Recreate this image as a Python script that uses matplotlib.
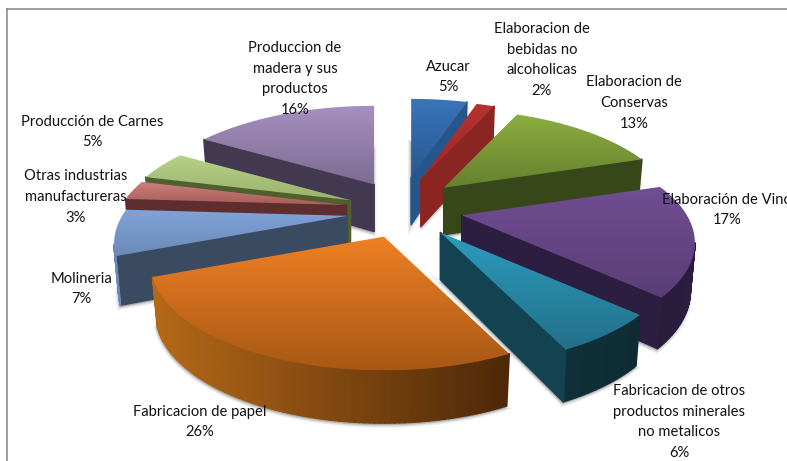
import numpy as np
import matplotlib
matplotlib.use("Agg")
import matplotlib.pyplot as plt
from matplotlib.patches import Polygon
from matplotlib.colors import LinearSegmentedColormap

# --- data ---
categories = ["Azucar", "Elaboracion de\nbebidas no\nalcoholicas", "Elaboracion de\nConservas",
              "Elaboración de Vino", "Fabricacion de otros\nproductos minerales\nno metalicos",
              "Fabricacion de papel", "Molineria", "Otras industrias\nmanufactureras",
              "Producción de Carnes", "Produccion de\nmadera y sus\nproductos"]
values = [5, 1.6, 13.4, 17, 6, 26, 7, 3, 4.6, 16.4]

# --- style ---
explode = [0.305, 0.298, 0.285, 0.30, 0.322, 0.305, 0.239, 0.225, 0.218, 0.25]
explode_turn = [2.9, 0, -1.0, 3.5, -0.8, -10.6, -12.9, -4, -4.4, 5.5]
top_light = ["#3a74ba", "#b43232", "#8cae40", "#714d92", "#2c9cbe", "#ef8024", "#81a3d8", "#cb807b", "#b7d188", "#a690bf"]
top_dark = ["#28588f", "#9c2a28", "#66802e", "#5a3d76", "#226f88", "#a85816", "#6b8aba", "#a85d59", "#9bb26b", "#7e6c93"]
wall_radial = ["#27568c", "#8a2522", "#38471a", "#2c1e40", "#134250", "#8c4f12", "#3a4a60", "#5e2e2e", "#4f5f2f", "#423850"]
wall_left = ["#2a5a90", "#8a2522", "#3a4a1c", "#1f1530", "#113540", "#b56818", "#6a88b4", "#7a3c3c", "#5f7038", "#4a3f5a"]
wall_right = ["#27568c", "#8a2522", "#38471a", "#2a1d3e", "#0f2c34", "#4d2808", "#3a4a60", "#5e2e2e", "#4f5f2f", "#423850"]
order = [9, 0, 1, 8, 2, 7, 6, 3, 4, 5]
label_xy = [(448, 77), (542, 60), (634, 103), (727, 210), (679, 422), (200, 422), (81, 289), (76, 197), (92, 132), (295, 79)]
CX, CY = 397, 207      # pie centre on the canvas
A, B, P = 225, 99, 0.26  # projection of the tilted disc
H = 47                 # thickness

def project(theta):
    s, c = np.sin(theta), np.cos(theta)
    d = 1 + P * c
    return A * s / d, -B * c / d

def hex2rgb(h):
    return np.array(matplotlib.colors.to_rgb(h))

fig = plt.figure(figsize=(7.87, 4.61), dpi=100)
ax = fig.add_axes([0, 0, 1, 1])
ax.set_xlim(0, 787)
ax.set_ylim(461, 0)
ax.axis("off")

# frame
ax.plot([7, 7], [461, 9], color="#8c8c8c", lw=1.2, zorder=1, clip_on=False)
ax.plot([7, 787], [9, 9], color="#8c8c8c", lw=1.2, zorder=1, clip_on=False)

fractions = np.array(values, float) / sum(values)
edges = np.concatenate([[0], np.cumsum(fractions)]) * 2 * np.pi

geo = []
for i in range(len(values)):
    t0, t1 = edges[i], edges[i + 1]
    mid = np.degrees((t0 + t1) / 2) + explode_turn[i]
    ax0 = CX + A * explode[i] * np.sin(np.radians(mid))
    ay0 = CY - B * explode[i] * np.cos(np.radians(mid))
    th = np.linspace(t0, t1, max(8, int((t1 - t0) * 60)))
    px, py = project(th)
    rim = np.column_stack([ax0 + px, ay0 + py])
    top = np.vstack([[ax0, ay0], rim])
    geo.append((top, th))

def bottom(pts, th_vals):
    # thickness grows slightly towards the viewer, and the lower face is a bit narrower
    out = pts.copy()
    c = np.cos(th_vals)
    out[:, 1] += H * (1 - 0.12 * c)
    return out

# soft shadows on the paper
for i in order:
    top, th = geo[i]
    thv = np.concatenate([[np.pi / 2], th])
    low = bottom(top, thv)
    cen = top[0]
    low[:, 0] = cen[0] + (low[:, 0] - cen[0]) * 0.98
    for grow, alpha in ((4.0, 0.08), (2.5, 0.10), (1.2, 0.12)):
        ax.add_patch(Polygon(low + [-0.5, 2.0], closed=True, fc="#555555", ec="#555555",
                             lw=grow, alpha=alpha, zorder=2))

z = 3
for i in order:
    top, th = geo[i]
    thv = np.concatenate([[np.pi / 2], th])
    low = bottom(top, thv)
    cen = top[0]
    low[:, 0] = cen[0] + (low[:, 0] - cen[0]) * 0.98
    n = len(top)
    xs = top[:, 0]
    xmin, xmax = xs.min(), xs.max()
    for j in range(n):
        k = (j + 1) % n
        if top[k, 0] < top[j, 0] - 1e-6:
            quad = np.array([top[j], top[k], low[k], low[j]])
            if j == n - 1 or j == 0:
                col = wall_radial[i]
            else:
                u = ((top[j, 0] + top[k, 0]) / 2 - xmin) / max(xmax - xmin, 1)
                col = matplotlib.colors.to_hex(hex2rgb(wall_left[i]) * (1 - u) + hex2rgb(wall_right[i]) * u)
            ax.add_patch(Polygon(quad, closed=True, fc=col, ec=col, lw=1.2, joinstyle="round", zorder=z))
    z += 1
    # top face with vertical gradient
    cmap = LinearSegmentedColormap.from_list("g", [top_light[i], top_dark[i]])
    ymin, ymax = top[:, 1].min(), top[:, 1].max()
    im = ax.imshow(np.linspace(0, 1, 128).reshape(-1, 1), cmap=cmap, aspect="auto",
                   extent=[xmin, xmax, ymax, ymin], zorder=z, interpolation="bilinear")
    clip = Polygon(top, closed=True, transform=ax.transData, fc="none", ec="none")
    ax.add_patch(clip)
    im.set_clip_path(clip)
    z += 1
ax.set_xlim(0, 787)
ax.set_ylim(461, 0)

for name, v, (lx, ly) in zip(categories, values, label_xy):
    ax.text(lx, ly, f"{name}\n{v:.0f}%", ha="center", va="center", family="Lato", fontsize=10.6,
            color="#111111", linespacing=1.6, zorder=100, clip_on=False)

fig.savefig("out.png", dpi=100)
